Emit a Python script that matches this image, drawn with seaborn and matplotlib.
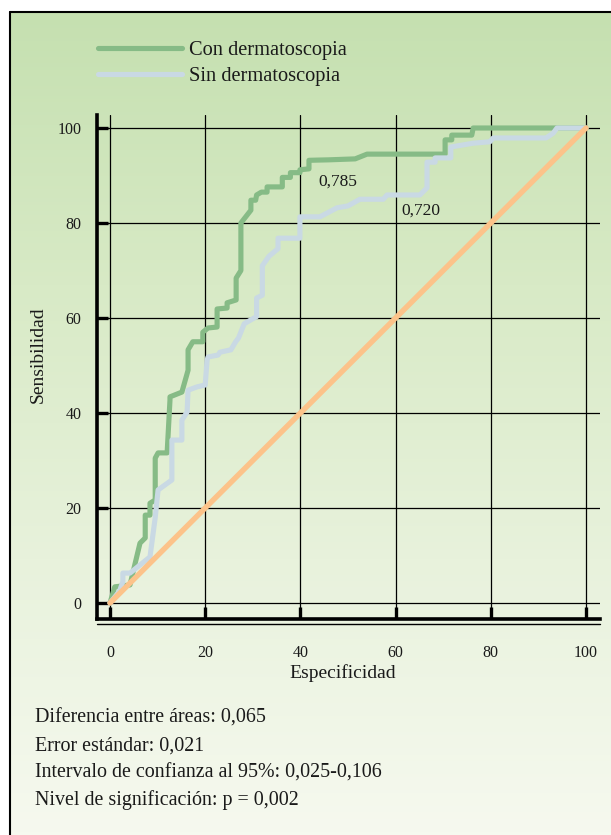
import numpy as np
import pandas as pd
import matplotlib
matplotlib.use("Agg")
import matplotlib.pyplot as plt
import seaborn as sns
from matplotlib.lines import Line2D
from matplotlib.colors import LinearSegmentedColormap

# ---------------- data ----------------
series_names = ["Con dermatoscopia", "Sin dermatoscopia"]

con_x = [0, 1, 4.2, 6.3, 7.4, 7.4, 8.4, 8.4, 9.5, 9.5, 10.1, 12, 12.6, 12.6, 15.1, 16.4, 16.4,
         17.4, 19.5, 19.5, 20.6, 22.5, 22.5, 24.6, 24.6, 26.5, 26.5, 27.5, 27.5, 29.6, 29.6,
         30.6, 30.8, 31.8, 33, 33, 36.2, 36.2, 37.9, 37.9, 39.9, 39.9, 41.8, 41.8, 46, 51.5,
         54, 70.4, 70.4, 71.8, 71.8, 76, 76.3, 100]
con_y = [0, 3.4, 3.8, 12.6, 13.7, 18.5, 18.5, 21, 21.7, 30.5, 31.6, 31.6, 42.7, 43.4, 44.4, 49, 53.3,
         55, 55, 57, 57.9, 58.1, 61.9, 62.1, 63.2, 63.8, 68.4, 70, 80, 82.7, 84.8,
         84.8, 85.9, 86.5, 86.5, 87.6, 87.6, 89.6, 89.6, 90.6, 90.6, 91.2, 91.4, 93.2, 93.3, 93.5,
         94.5, 94.5, 97.5, 97.5, 98.5, 98.5, 100, 100]

sin_x = [0, 2, 2.7, 2.7, 4.2, 8.4, 9.5, 10.1, 13, 13, 15.1, 15.1, 16.2, 16.4, 18.3, 20, 20.4,
         20.6, 22.7, 23.1, 25.4, 26.4, 27, 28.2, 30.8, 30.8, 32, 32, 33.4, 35.3, 35.3, 39.9,
         39.9, 44.1, 47.7, 50, 52.5, 57.4, 58.2, 65.1, 66.6, 66.6, 68.3, 68.3, 71.6, 71.6,
         76.3, 79.8, 80.5, 91.6, 93.1, 93.9, 100]
sin_y = [0, 2.5, 4.5, 6.3, 6.3, 9.7, 18, 23.8, 25.9, 34.3, 34.3, 38.5, 40.2, 44.8, 45.5, 45.9, 51.2,
         51.8, 52.2, 52.8, 53.3, 55, 55.8, 58.8, 60.3, 64.2, 64.8, 71, 73, 74.6, 76.8, 76.8,
         81.3, 81.3, 83.2, 83.6, 85, 85, 85.9, 85.9, 87.4, 92.8, 92.8, 93.7, 93.7, 96,
         96.8, 97.1, 97.9, 97.9, 98.9, 100, 100]

diag_x = [0, 100]
diag_y = [0, 100]

tick_values = [0, 20, 40, 60, 80, 100]
auc_labels = ["0,785", "0,720"]
stats_lines = [
    "Diferencia entre áreas: 0,065",
    "Error estándar: 0,021",
    "Intervalo de confianza al 95%: 0,025-0,106",
    "Nivel de significación: p = 0,002",
]

df = pd.concat([
    pd.DataFrame({"x": con_x, "y": con_y, "serie": series_names[0]}),
    pd.DataFrame({"x": sin_x, "y": sin_y, "serie": series_names[1]}),
], ignore_index=True)
df_diag = pd.DataFrame({"x": diag_x, "y": diag_y})

# ---------------- style ----------------
sns.set_theme(style="white")
plt.rcParams["font.family"] = ["Liberation Serif", "DejaVu Serif"]
plt.rcParams["text.color"] = "#1a1a1a"

W, H = 611, 835
fig = plt.figure(figsize=(W / 100, H / 100), dpi=100)
fig.patch.set_facecolor("white")


def fx(px):
    return px / W


def fy(py):
    return 1 - py / H


# gradient panel
bg = fig.add_axes([fx(9), 0, 1 - fx(9), fy(12)])
grad = np.linspace(0, 1, 256).reshape(-1, 1)
cmap = LinearSegmentedColormap.from_list("g", ["#c5e0b0", "#d8eac6", "#e8f2dc", "#f6f9ef"])
bg.imshow(grad, aspect="auto", cmap=cmap, extent=[0, 1, 0, 1])
bg.set_axis_off()
fig.add_artist(Line2D([fx(9.5), fx(9.5)], [0, fy(12)], color="black", lw=1.5))
fig.add_artist(Line2D([fx(9.5), 1], [fy(12), fy(12)], color="black", lw=1.5))

# main axes
x0px, x100px = 110, 586
y0px, y100px = 603, 128
sx = (x100px - x0px) / 100.0
sy = (y0px - y100px) / 100.0
L, R, T, B = 97, 600, 115, 619
ax = fig.add_axes([fx(L), fy(B), fx(R) - fx(L), fy(T) - fy(B)])
ax.set_facecolor("none")
ax.set_xlim((L - x0px) / sx, (R - x0px) / sx)
ax.set_ylim(-(B - y0px) / sy, (y0px - T) / sy)

palette = {series_names[0]: "#86bb86", series_names[1]: "#c9d9e4"}
sns.lineplot(data=df, x="x", y="y", hue="serie", palette=palette, sort=False,
             estimator=None, lw=3.7, ax=ax, legend=True, zorder=3)
sns.lineplot(data=df_diag, x="x", y="y", color="#fcc38a", lw=3.9, ax=ax,
             sort=False, estimator=None, zorder=4)

ax.set_xticks(tick_values)
ax.set_yticks(tick_values)
ax.set_xticklabels([str(v) for v in tick_values])
ax.set_yticklabels([str(v) for v in tick_values])
ax.grid(True, color="black", lw=0.9, zorder=1)
ax.set_axisbelow(True)
for s in ["top", "right"]:
    ax.spines[s].set_visible(False)
for s in ["left", "bottom"]:
    ax.spines[s].set_visible(True)
    ax.spines[s].set_color("black")
    ax.spines[s].set_linewidth(2.6)
ax.tick_params(axis="y", direction="in", length=8, width=2.4, color="black",
               labelsize=11.5, pad=11, left=True, labelcolor="#1a1a1a")
ax.tick_params(axis="x", direction="in", length=9, width=2.4, color="black",
               labelsize=11.5, pad=19, bottom=True, labelcolor="#1a1a1a")
ax.set_xlabel("")
ax.set_ylabel("")
ax.add_line(Line2D([0, 1], [-4.5 / (B - T)] * 2, transform=ax.transAxes,
                   color="black", lw=1.0, clip_on=False))

# AUC annotations
ax.text(43.7, 88.8, auc_labels[0], fontsize=12.5, ha="left", va="center")
ax.text(61.3, 82.7, auc_labels[1], fontsize=12.5, ha="left", va="center")

# legend
handles, labels = ax.get_legend_handles_labels()
ax.get_legend().remove()
leg = fig.legend(handles[:2], labels[:2], loc="upper left",
                 bbox_to_anchor=(fx(98), fy(41)), frameon=False, fontsize=14.7,
                 handlelength=4.1, handletextpad=0.35, labelspacing=0.3,
                 borderpad=0, borderaxespad=0)
for h in leg.get_lines():
    h.set_linewidth(3.7)

# axis labels
fig.text(fx(343), fy(673), "Especificidad", ha="center", va="center", fontsize=14)
fig.text(fx(38), fy(355), "Sensibilidad", ha="center", va="center", rotation=90, fontsize=14)

# statistics
for i, line in enumerate(stats_lines):
    fig.text(fx(35), fy(723 + i * 27.3), line, ha="left", va="baseline", fontsize=14.4)

fig.savefig("out.png", dpi=100)
